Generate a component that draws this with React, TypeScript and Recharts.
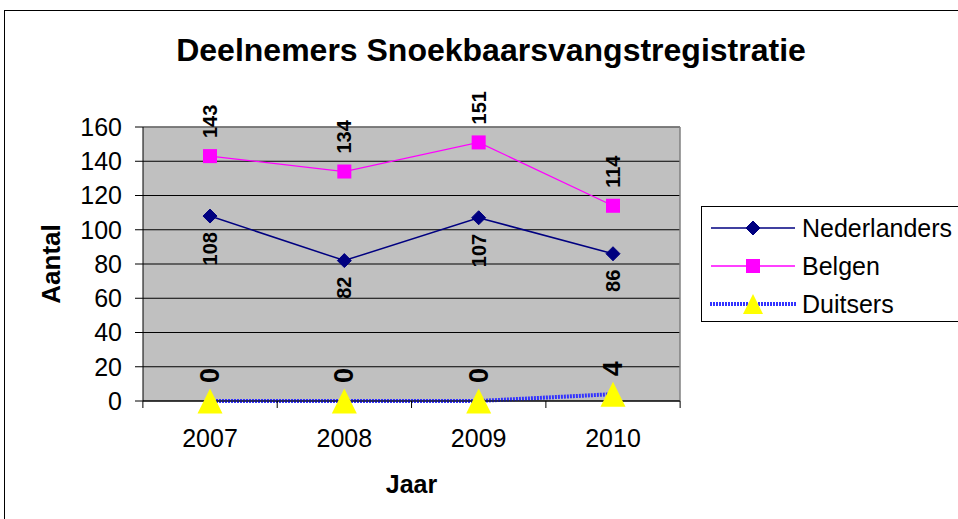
import React from "react";
import {
  CartesianGrid,
  Label,
  LabelList,
  Legend,
  Line,
  LineChart,
  XAxis,
  YAxis,
} from "recharts";

const years = ["2007", "2008", "2009", "2010"];
const nederlanders = [108, 82, 107, 86];
const belgen = [143, 134, 151, 114];
const duitsers = [0, 0, 0, 4];
const seriesNames = ["Nederlanders", "Belgen", "Duitsers"];
const yTicks = [0, 20, 40, 60, 80, 100, 120, 140, 160];

const data = years.map((year, i) => ({
  year,
  Nederlanders: nederlanders[i],
  Belgen: belgen[i],
  Duitsers: duitsers[i],
}));

const FONT = '"Liberation Sans", Arial, sans-serif';
const NAVY = "#000080";
const MAGENTA = "#FF00FF";
const BLUE = "#3333FF";
const YELLOW = "#FFFF00";

function Diamond({ cx, cy, size = 7 }: any) {
  if (cx == null || cy == null) return null;
  const s = size;
  return (
    <path
      d={`M${cx},${cy - s} L${cx + s},${cy} L${cx},${cy + s} L${cx - s},${cy} Z`}
      fill={NAVY}
      stroke={NAVY}
    />
  );
}

function Square({ cx, cy, size = 7 }: any) {
  if (cx == null || cy == null) return null;
  return <rect x={cx - size} y={cy - size} width={size * 2} height={size * 2} fill={MAGENTA} />;
}

function Triangle({ cx, cy, size = 12.5 }: any) {
  if (cx == null || cy == null) return null;
  const s = size;
  return <path d={`M${cx},${cy - s} L${cx + s},${cy + s} L${cx - s},${cy + s} Z`} fill={YELLOW} />;
}

// year label plus Excel-style tick marks between the categories
function YearTick(props: any) {
  const { x, y, payload, width, index, visibleTicksCount } = props;
  const half = width / visibleTicksCount / 2;
  return (
    <g>
      <line x1={x - half} x2={x - half} y1={y} y2={y + 7} stroke="#000" />
      {index === visibleTicksCount - 1 && (
        <line x1={x + half} x2={x + half} y1={y} y2={y + 7} stroke="#000" />
      )}
      <text
        x={x}
        y={y + 28}
        dy="0.71em"
        textAnchor="middle"
        fontFamily={FONT}
        fontSize={25}
        fill="#000"
      >
        {payload.value}
      </text>
    </g>
  );
}

// rotated data labels, reading bottom to top, above or below the point
function rotatedLabel(side: "above" | "below", fontSize: number, gap: number) {
  return (props: any) => {
    const { x, y, value } = props;
    if (x == null || y == null) return null;
    const ay = side === "above" ? y - gap : y + gap;
    return (
      <text
        x={x}
        y={ay}
        transform={`rotate(-90 ${x} ${ay})`}
        textAnchor={side === "above" ? "start" : "end"}
        dominantBaseline="central"
        fontFamily={FONT}
        fontWeight="bold"
        fontSize={fontSize}
        fill="#000"
      >
        {value}
      </text>
    );
  };
}

function LegendIcon({ name }: { name: string }) {
  if (name === "Nederlanders") {
    return (
      <svg width={88} height={26}>
        <line x1={2} y1={13} x2={86} y2={13} stroke={NAVY} strokeWidth={1.5} />
        <Diamond cx={44} cy={13} />
      </svg>
    );
  }
  if (name === "Belgen") {
    return (
      <svg width={88} height={26}>
        <line x1={2} y1={13} x2={86} y2={13} stroke={MAGENTA} strokeWidth={1.5} />
        <Square cx={44} cy={13} />
      </svg>
    );
  }
  return (
    <svg width={88} height={26}>
      <line x1={1} y1={13} x2={87} y2={13} stroke={BLUE} strokeWidth={4} strokeDasharray="2 1" />
      <Triangle cx={44} cy={13} size={10} />
    </svg>
  );
}

function renderLegend(props: any) {
  const { payload = [] } = props;
  const items = seriesNames
    .map((n) => payload.find((p: any) => p.value === n))
    .filter(Boolean);
  return (
    <div
      style={{
        border: "1px solid #000",
        width: 300,
        height: 116,
        boxSizing: "border-box",
        paddingTop: 2,
        background: "#fff",
      }}
    >
      {items.map((entry: any) => (
        <div
          key={entry.value}
          style={{ display: "flex", alignItems: "center", height: 38, paddingLeft: 7 }}
        >
          <LegendIcon name={entry.value} />
          <span style={{ fontFamily: FONT, fontSize: 25, color: "#000", marginLeft: 5 }}>
            {entry.value}
          </span>
        </div>
      ))}
    </div>
  );
}

export default function App() {
  return (
    <div
      style={{
        position: "absolute",
        left: 0,
        top: 0,
        width: 958,
        height: 519,
        overflow: "hidden",
        background: "#fff",
      }}
    >
      <div
        style={{
          position: "absolute",
          left: 4,
          top: 10,
          width: 1000,
          height: 600,
          border: "1px solid #000",
        }}
      />
      <div
        style={{
          position: "absolute",
          left: 0,
          top: 31,
          width: 982,
          textAlign: "center",
          fontFamily: FONT,
          fontWeight: "bold",
          fontSize: 32,
          lineHeight: "38px",
          color: "#000",
        }}
      >
        Deelnemers Snoekbaarsvangstregistratie
      </div>
      <div style={{ position: "absolute", left: 0, top: 0 }}>
        <LineChart
          width={958}
          height={519}
          data={data}
          margin={{ top: 127, right: 278, bottom: 88, left: 0 }}
        >
          <CartesianGrid vertical={false} stroke="#000" fill="#C0C0C0" fillOpacity={1} />
          {/* gray frame on the top and right of the plot area */}
          <CartesianGrid
            stroke="#808080"
            strokeWidth={1.5}
            fill="none"
            horizontalCoordinatesGenerator={({ offset }: any) => [offset.top]}
            verticalCoordinatesGenerator={({ offset }: any) => [offset.left + offset.width]}
          />
          <XAxis
            dataKey="year"
            height={30}
            padding={{ left: 67, right: 67 }}
            axisLine={{ stroke: "#000" }}
            tickLine={false}
            tickSize={0}
            tickMargin={0}
            tick={<YearTick />}
          >
            <Label
              content={({ viewBox }: any) => (
                <text
                  x={viewBox.x + viewBox.width / 2}
                  y={viewBox.y + 92}
                  textAnchor="middle"
                  fontFamily={FONT}
                  fontWeight="bold"
                  fontSize={25}
                  fill="#000"
                >
                  Jaar
                </text>
              )}
            />
          </XAxis>
          <YAxis
            width={143}
            domain={[0, 160]}
            ticks={yTicks}
            interval={0}
            tickSize={8}
            tickMargin={13}
            axisLine={{ stroke: "#000" }}
            tickLine={{ stroke: "#000" }}
            tick={{ fontFamily: FONT, fontSize: 25, fill: "#000" }}
          >
            <Label
              content={({ viewBox }: any) => {
                const cx = viewBox.x + 51;
                const cy = viewBox.y + viewBox.height / 2;
                return (
                  <text
                    x={cx}
                    y={cy}
                    transform={`rotate(-90 ${cx} ${cy})`}
                    textAnchor="middle"
                    dominantBaseline="central"
                    fontFamily={FONT}
                    fontWeight="bold"
                    fontSize={26}
                    fill="#000"
                  >
                    Aantal
                  </text>
                );
              }}
            />
          </YAxis>
          <Legend
            layout="horizontal"
            align="center"
            verticalAlign="middle"
            content={renderLegend}
            wrapperStyle={{ left: 701, top: 206, width: 300, height: 116 }}
          />
          <Line
            type="linear"
            dataKey="Nederlanders"
            stroke={NAVY}
            strokeWidth={1.5}
            dot={<Diamond />}
            activeDot={false}
            isAnimationActive={false}
          >
            <LabelList dataKey="Nederlanders" content={rotatedLabel("below", 20, 16)} />
          </Line>
          <Line
            type="linear"
            dataKey="Belgen"
            stroke={MAGENTA}
            strokeWidth={1.2}
            dot={<Square />}
            activeDot={false}
            isAnimationActive={false}
          >
            <LabelList dataKey="Belgen" content={rotatedLabel("above", 20, 18)} />
          </Line>
          <Line
            type="linear"
            dataKey="Duitsers"
            stroke={BLUE}
            strokeWidth={4}
            strokeDasharray="2 1"
            dot={<Triangle />}
            activeDot={false}
            isAnimationActive={false}
          >
            <LabelList dataKey="Duitsers" content={rotatedLabel("above", 27, 18)} />
          </Line>
        </LineChart>
      </div>
    </div>
  );
}
